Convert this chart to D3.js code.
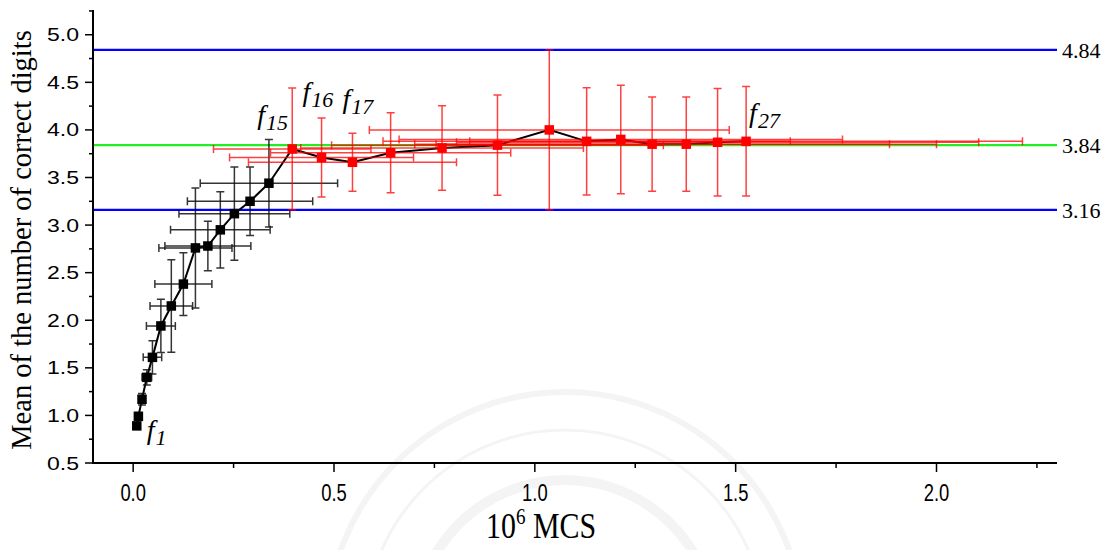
<!DOCTYPE html>
<html>
<head>
<meta charset="utf-8">
<script src="https://cdn.jsdelivr.net/npm/d3@7"></script>
<style>
  html, body { margin: 0; padding: 0; background: #ffffff; }
  svg { display: block; }
</style>
</head>
<body>
<svg id="chart" width="1111" height="550"></svg>
<script>
// Mean of the number of correct digits versus Monte Carlo steps (10^6 MCS)
const mcs = [
  0.009, 0.013, 0.022, 0.034, 0.048, 0.069, 0.095, 0.125, 0.155, 0.186, 0.217, 0.252, 0.291, 0.338,
  0.396, 0.469, 0.546, 0.641, 0.769, 0.907, 1.036, 1.129, 1.214, 1.292, 1.377, 1.455, 1.526
];
const meanDigits = [
  0.89, 0.99, 1.17, 1.40, 1.61, 1.94, 2.15, 2.38, 2.76, 2.78, 2.95, 3.12, 3.25, 3.44,
  3.80, 3.71, 3.66, 3.76, 3.81, 3.84, 4.00, 3.88, 3.90, 3.85, 3.85, 3.87, 3.88
];
const mcsErr = [
  0.004, 0.005, 0.008, 0.012, 0.023, 0.036, 0.053, 0.071, 0.091, 0.107, 0.124, 0.138, 0.156, 0.171,
  0.196, 0.229, 0.259, 0.299, 0.352, 0.413, 0.448, 0.507, 0.552, 0.591, 0.623, 0.650, 0.688
];
const digitsErr = [
  0.03, 0.04, 0.06, 0.08, 0.175, 0.28, 0.485, 0.33, 0.63, 0.26, 0.40, 0.49, 0.36, 0.46,
  0.64, 0.415, 0.305, 0.42, 0.445, 0.526, 0.84, 0.564, 0.57, 0.495, 0.495, 0.564, 0.575
];
// first phase f1..f14 in black, second phase f15..f27 in red
const phaseSplit = 14;
const refValues = [4.84, 3.84, 3.16];
const refNames = ["upper", "mean", "lower"];
const xTickValues = [0, 0.5, 1.0, 1.5, 2.0];
const yTickValues = [0.5, 1.0, 1.5, 2.0, 2.5, 3.0, 3.5, 4.0, 4.5, 5.0];
const pointLabels = [
  { index: 0, sub: "1" },
  { index: 14, sub: "15" },
  { index: 15, sub: "16" },
  { index: 16, sub: "17" },
  { index: 26, sub: "27" }
];

const svg = d3.select("#chart");
const plotLeft = 93, plotRight = 1057, plotTop = 10, plotBottom = 463;

const x = d3.scaleLinear().domain([-0.1, 2.3]).range([plotLeft, plotRight]);
const y = d3.scaleLinear().domain([0.5, 5.26]).range([plotBottom, plotTop]);

const pts = mcs.map((v, i) => ({
  i, x: v, y: meanDigits[i], ex: mcsErr[i], ey: digitsErr[i],
  phase: i < phaseSplit ? 0 : 1
}));

// faint emblem in the background
const emblem = svg.append("g").attr("fill", "none").attr("stroke", "#f4f4f4");
emblem.append("circle").attr("cx", 565).attr("cy", 630).attr("r", 238).attr("stroke-width", 6);
emblem.append("circle").attr("cx", 565).attr("cy", 630).attr("r", 200).attr("stroke-width", 3);
emblem.append("circle").attr("cx", 565).attr("cy", 630).attr("r", 150).attr("stroke-width", 10);

// reference levels
const refColor = { upper: "#0000ff", mean: "#22ee22", lower: "#0000ff" };
svg.append("g").selectAll("line").data(refValues).join("line")
  .attr("x1", plotLeft).attr("x2", plotRight)
  .attr("y1", d => y(d)).attr("y2", d => y(d))
  .attr("stroke", (d, i) => refColor[refNames[i]])
  .attr("stroke-width", 2.2);

svg.append("g").selectAll("text").data(refValues).join("text")
  .attr("x", plotRight + 5).attr("y", d => y(d) + 8)
  .attr("font-family", "'Liberation Serif', 'Times New Roman', serif")
  .attr("font-size", 22).attr("fill", "#000")
  .text(d => d.toFixed(2));

// connecting line
svg.append("path").datum(pts)
  .attr("fill", "none").attr("stroke", "#000").attr("stroke-width", 2)
  .attr("d", d3.line().x(d => x(d.x)).y(d => y(d.y)));

// error bars
const barColor = ["#111111", "#ff0000"];
const barOpacity = [0.85, 0.75];
const cap = 4;
const bars = svg.append("g").selectAll("g").data(pts).join("g")
  .attr("stroke", d => barColor[d.phase])
  .attr("stroke-opacity", d => barOpacity[d.phase])
  .attr("stroke-width", 1.5)
  .attr("fill", "none");
bars.append("path").attr("d", d => {
  const cx = x(d.x), cy = y(d.y);
  const x0 = x(d.x - d.ex), x1 = x(d.x + d.ex);
  const y0 = y(d.y - d.ey), y1 = y(d.y + d.ey);
  return `M${x0},${cy}H${x1}` +
         `M${x0},${cy - cap}V${cy + cap}M${x1},${cy - cap}V${cy + cap}` +
         `M${cx},${y0}V${y1}` +
         `M${cx - cap},${y0}H${cx + cap}M${cx - cap},${y1}H${cx + cap}`;
});

// square markers
const sq = 9.5;
svg.append("g").selectAll("rect").data(pts).join("rect")
  .attr("x", d => x(d.x) - sq / 2).attr("y", d => y(d.y) - sq / 2)
  .attr("width", sq).attr("height", sq)
  .attr("fill", d => d.phase ? "#ff0000" : "#000000");

// axes
const axisG = svg.append("g").attr("stroke", "#000");
axisG.append("line").attr("x1", plotLeft).attr("x2", plotLeft).attr("y1", plotTop).attr("y2", plotBottom + 1)
  .attr("stroke-width", 2);
axisG.append("line").attr("x1", plotLeft - 1).attr("x2", plotRight).attr("y1", plotBottom).attr("y2", plotBottom)
  .attr("stroke-width", 2);

const yMinor = d3.range(0.75, 5.26, 0.5);
axisG.append("g").selectAll("line").data(yTickValues).join("line")
  .attr("x1", plotLeft - 8).attr("x2", plotLeft).attr("y1", d => y(d)).attr("y2", d => y(d))
  .attr("stroke-width", 1.5);
axisG.append("g").selectAll("line").data(yMinor).join("line")
  .attr("x1", plotLeft - 4).attr("x2", plotLeft).attr("y1", d => y(d)).attr("y2", d => y(d))
  .attr("stroke-width", 1.5);

const xMinor = d3.range(0.25, 2.3, 0.5);
axisG.append("g").selectAll("line").data(xTickValues).join("line")
  .attr("x1", d => x(d)).attr("x2", d => x(d)).attr("y1", plotBottom).attr("y2", plotBottom + 9)
  .attr("stroke-width", 1.5);
axisG.append("g").selectAll("line").data(xMinor).join("line")
  .attr("x1", d => x(d)).attr("x2", d => x(d)).attr("y1", plotBottom).attr("y2", plotBottom + 5)
  .attr("stroke-width", 1.5);

// tick labels
svg.append("g").selectAll("text").data(yTickValues).join("text")
  .attr("transform", d => `translate(79,${y(d) + 6.5}) scale(1.28,1)`)
  .attr("text-anchor", "end")
  .attr("font-family", "'Liberation Sans', Arial, sans-serif")
  .attr("font-size", 18).attr("fill", "#000")
  .text(d => d.toFixed(1));

svg.append("g").selectAll("text").data(xTickValues).join("text")
  .attr("transform", d => `translate(${x(d)},501) scale(0.8,1)`)
  .attr("text-anchor", "middle")
  .attr("font-family", "'Liberation Sans', Arial, sans-serif")
  .attr("font-size", 23).attr("fill", "#000")
  .text(d => d.toFixed(1));

// axis titles
svg.append("text")
  .attr("transform", "translate(31,240) rotate(-90)")
  .attr("text-anchor", "middle")
  .attr("font-family", "'Liberation Serif', 'Times New Roman', serif")
  .attr("font-size", 28.5).attr("fill", "#000")
  .text("Mean of the number of correct digits");

const xt = svg.append("text")
  .attr("transform", "translate(541,538) scale(0.83,1)")
  .attr("text-anchor", "middle")
  .attr("font-family", "'Liberation Serif', 'Times New Roman', serif")
  .attr("font-size", 36).attr("fill", "#000");
xt.append("tspan").text("10");
xt.append("tspan").attr("font-size", 23).attr("dy", -14).text("6");
xt.append("tspan").attr("dy", 14).text(" MCS");

// point annotations f_n
const labelOffset = { 0: [10, 13], 14: [-35, -25], 15: [-19, -57], 16: [-10, -54], 26: [3, -19] };
const lab = svg.append("g").selectAll("text").data(pointLabels).join("text")
  .attr("x", d => x(mcs[d.index]) + labelOffset[d.index][0])
  .attr("y", d => y(meanDigits[d.index]) + labelOffset[d.index][1])
  .attr("font-family", "'Liberation Serif', 'Times New Roman', serif")
  .attr("font-style", "italic")
  .attr("font-size", 28).attr("fill", "#000");
lab.append("tspan").text("f");
lab.append("tspan").attr("font-size", 22).attr("dy", 6).attr("dx", 1).text(d => d.sub);
</script>
</body>
</html>
